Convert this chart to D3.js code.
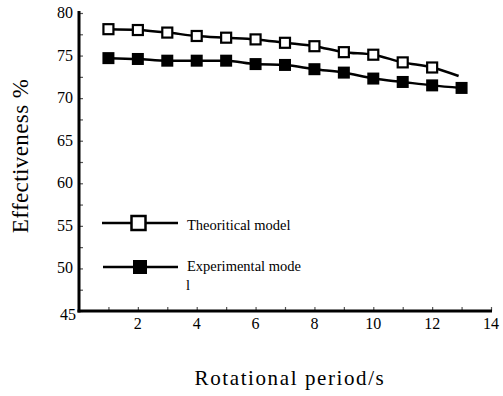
<!DOCTYPE html>
<html>
<head>
    <title>Effectiveness vs rotational period</title>
    <script src="https://d3js.org/d3.v7.min.js"></script>
    <style>
        body { margin: 0; background: #fff; }
    </style>
</head>
<body>
    <svg width="503" height="396"></svg>
    <script>
        // Data
        var periods = [1, 2, 3, 4, 5, 6, 7, 8, 9, 10, 11, 12, 13];
        var theoretical = [78.1, 78.0, 77.7, 77.3, 77.1, 76.9, 76.5, 76.1, 75.4, 75.1, 74.2, 73.6, 72.6];
        var experimental = [74.7, 74.6, 74.4, 74.4, 74.4, 74.0, 73.9, 73.4, 73.0, 72.3, 71.9, 71.5, 71.2];
        var theoMarkerCount = 12; // last theoretical point is only a line end
        var xTicks = [2, 4, 6, 8, 10, 12, 14];
        var yTicks = [45, 50, 55, 60, 65, 70, 75, 80];

        var serif = "'Times New Roman', 'Liberation Serif', Times, serif";

        var svg = d3.select("svg");

        var x = d3.scaleLinear().domain([0, 14]).range([79, 491]);
        var y = d3.scaleLinear().domain([45, 80]).range([311, 13]);

        // axes (ticks point inward)
        var xAxis = d3.axisBottom(x)
            .tickValues(d3.range(1, 15))
            .tickSize(-4)
            .tickFormat("");
        var gx = svg.append("g")
            .attr("transform", "translate(0,311)")
            .call(xAxis);
        gx.select(".domain").remove();
        gx.selectAll(".tick line").attr("stroke", "#555").attr("stroke-width", 1.2);

        var yAxis = d3.axisLeft(y)
            .tickValues(d3.range(45, 80.1, 2.5))
            .tickSize(-4)
            .tickFormat("");
        var gy = svg.append("g")
            .attr("transform", "translate(79,0)")
            .call(yAxis);
        gy.select(".domain").remove();
        gy.selectAll(".tick line").attr("stroke", "#555").attr("stroke-width", 1.2);

        // axis lines
        svg.append("line")
            .attr("x1", 79).attr("x2", 79)
            .attr("y1", 11).attr("y2", 312.5)
            .attr("stroke", "#000").attr("stroke-width", 3);
        svg.append("line")
            .attr("x1", 77.5).attr("x2", 492)
            .attr("y1", 311).attr("y2", 311)
            .attr("stroke", "#000").attr("stroke-width", 3);

        // tick labels
        svg.selectAll(".xlab")
            .data(xTicks)
            .enter().append("text")
            .attr("class", "xlab")
            .attr("x", function(d) { return x(d); })
            .attr("y", 329)
            .attr("text-anchor", "middle")
            .attr("font-family", serif)
            .attr("font-size", 16)
            .text(function(d) { return d; });

        svg.selectAll(".ylab")
            .data(yTicks)
            .enter().append("text")
            .attr("class", "ylab")
            .attr("x", function(d) { return d === 45 ? 76 : 73; })
            .attr("y", function(d) { return y(d) + (d === 45 ? 9 : 5); })
            .attr("text-anchor", "end")
            .attr("font-family", serif)
            .attr("font-size", 16)
            .text(function(d) { return d; });

        // axis titles
        svg.append("text")
            .attr("transform", "translate(28,156) rotate(-90)")
            .attr("text-anchor", "middle")
            .attr("font-family", serif)
            .attr("font-size", 23)
            .attr("letter-spacing", 0.4)
            .text("Effectiveness %");

        svg.append("text")
            .attr("x", 290)
            .attr("y", 385)
            .attr("text-anchor", "middle")
            .attr("font-family", serif)
            .attr("font-size", 21)
            .attr("letter-spacing", 1.6)
            .text("Rotational period/s");

        // series lines
        var line = d3.line()
            .x(function(d) { return x(d[0]); })
            .y(function(d) { return y(d[1]); })
            .curve(d3.curveMonotoneX);

        var theoPts = d3.zip(periods, theoretical);
        theoPts[theoPts.length - 1][0] = 12.9;
        var expPts = d3.zip(periods, experimental);

        svg.append("path").datum(theoPts)
            .attr("d", line)
            .attr("fill", "none").attr("stroke", "#000").attr("stroke-width", 2.5);
        svg.append("path").datum(expPts)
            .attr("d", line)
            .attr("fill", "none").attr("stroke", "#000").attr("stroke-width", 2.5);

        var ms = 10;
        svg.selectAll(".theo")
            .data(theoPts.slice(0, theoMarkerCount))
            .enter().append("rect")
            .attr("class", "theo")
            .attr("x", function(d) { return x(d[0]) - ms / 2; })
            .attr("y", function(d) { return y(d[1]) - ms / 2; })
            .attr("width", ms).attr("height", ms)
            .attr("fill", "#fff").attr("stroke", "#000").attr("stroke-width", 2.2);

        svg.selectAll(".exp")
            .data(expPts)
            .enter().append("rect")
            .attr("class", "exp")
            .attr("x", function(d) { return x(d[0]) - (ms + 2) / 2; })
            .attr("y", function(d) { return y(d[1]) - (ms + 2) / 2; })
            .attr("width", ms + 2).attr("height", ms + 2)
            .attr("fill", "#000");

        // legend
        var lg = svg.append("g").attr("font-family", serif).attr("font-size", 14.5);
        lg.append("line").attr("x1", 102).attr("x2", 178).attr("y1", 223).attr("y2", 223)
            .attr("stroke", "#000").attr("stroke-width", 2.5);
        lg.append("rect").attr("x", 131.5).attr("y", 216).attr("width", 14).attr("height", 14)
            .attr("fill", "#fff").attr("stroke", "#000").attr("stroke-width", 2.5);
        lg.append("text").attr("x", 187).attr("y", 230).text("Theoritical model");

        lg.append("line").attr("x1", 103).attr("x2", 178).attr("y1", 267).attr("y2", 267)
            .attr("stroke", "#000").attr("stroke-width", 2.5);
        lg.append("rect").attr("x", 133).attr("y", 260).attr("width", 14).attr("height", 14)
            .attr("fill", "#000");
        lg.append("text").attr("x", 187).attr("y", 271).text("Experimental mode");
        lg.append("text").attr("x", 186).attr("y", 290).text("l");
    </script>
</body>
</html>
